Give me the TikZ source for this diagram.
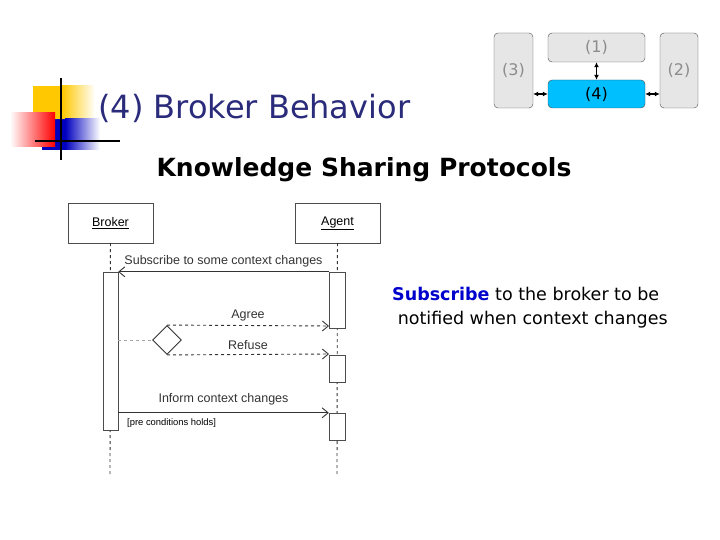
\documentclass[tikz,border=0pt]{standalone}
\usepackage{fontspec}
\setmainfont{DejaVu Sans}
\newfontfamily\arialf{Liberation Sans}
\usetikzlibrary{arrows.meta,shapes.geometric}
\definecolor{navy}{HTML}{2B2B7B}
\definecolor{cyanb}{HTML}{00BFFF}
\definecolor{boxg}{HTML}{E6E6E6}
\definecolor{ylw}{HTML}{FFC800}
\tikzset{
 gbox/.style={draw=black!70,fill=boxg,rounded corners=4pt,text=black!45,font=\fontsize{16}{18}\selectfont},
 dbl/.style={{Latex[length=5pt,width=5pt]}-{Latex[length=5pt,width=5pt]},line width=1.2pt},
 part/.style={draw=black!70,fill=white},
 act/.style={draw=black!70,fill=white},
 life/.style={dashed,black!80,line width=0.9pt},
 msg/.style={-{Straight Barb[length=6pt,width=10pt]},black!80,line width=0.9pt},
 lbl/.style={font=\arialf\fontsize{12.5}{14}\selectfont},
}
\begin{document}
\begin{tikzpicture}[x=1pt,y=-1pt]
\useasboundingbox (0,0) rectangle (720,540);
% logo
\fill[ylw] (33,86) rectangle (62,120);
\shade[left color=ylw,right color=white] (62,86) rectangle (95,120);
\fill[blue!75!black] (42,119) rectangle (65,150);
\shade[left color=blue!75!black,right color=white] (65,119) rectangle (100,150);
\shade[left color=white,right color=red] (10,113) rectangle (55,147);
\draw[line width=1.5pt] (61,78) -- (61,160);
\draw[line width=1.5pt] (35,141) -- (120,141);
\node[anchor=west,text=navy,font=\fontsize{32}{36}\selectfont,inner sep=0] (title) at (98,108) {(4) Broker Behavior};
% top right
\node[gbox,minimum width=39pt,minimum height=75pt] (b3) at (513.5,70.5) {(3)};
\node[gbox,minimum width=97pt,minimum height=29pt] (b1) at (596.5,47.5) {(1)};
\node[gbox,fill=cyanb,text=black,minimum width=97pt,minimum height=28pt] (b4) at (596.5,94) {(4)};
\node[gbox,minimum width=38pt,minimum height=75pt] (b2) at (679,70.5) {(2)};
\draw[dbl] (b1) -- (b4);
\draw[dbl] (b3.east|-b4) -- (b4.west);
\draw[dbl] (b4.east) -- (b2.west|-b4);
\node[font=\bfseries\fontsize{25}{28}\selectfont] (head) at (364,170) {Knowledge Sharing Protocols};
% sequence
\node[part,minimum width=85pt,minimum height=40pt,lbl] (broker) at (110.5,223) {\underline{Broker}};
\node[part,minimum width=85pt,minimum height=40pt,lbl] (agent) at (337.5,223) {\underline{Agent}};
\coordinate (be) at (110,475); \coordinate (ae) at (337,475);
\draw[life] (broker) -- (be);
\draw[life] (agent) -- (ae);
\node[act,minimum width=15pt,minimum height=158pt,inner sep=0] (ba) at (110.5,351) {};
\node[act,minimum width=16pt,minimum height=56pt,inner sep=0] (a1) at (337,300) {};
\node[act,minimum width=16pt,minimum height=27pt,inner sep=0] (a2) at (337,368.5) {};
\node[act,minimum width=16pt,minimum height=27pt,inner sep=0] (a3) at (337,426.5) {};
\draw[msg] (a1.north west) -- node[lbl,above=1pt] {Subscribe to some context changes} (ba.east|-a1.north west);
\node[diamond,draw=black!80,line width=0.9pt,fill=white,minimum width=29pt,minimum height=29pt,inner sep=0] (dia) at (167,340) {};
\draw[dashed,black!35,line width=0.9pt] (ba.east|-dia) -- (dia.west);
\coordinate (agr) at (329,326); \coordinate (ref) at (329,354);
\draw[msg,dashed] (dia.north) -- node[lbl,above=1pt,xshift=0pt] {Agree} (agr);
\draw[msg,dashed] (dia.south) -- node[lbl,above=1pt] {Refuse} (ref);
\draw[msg] (ba.east|-a3.north) -- node[lbl,above=4pt] {Inform context changes} (a3.north west);
\node[anchor=west,font=\arialf\fontsize{9.4}{10}\selectfont,inner sep=0] (pre) at (127,423) {[pre conditions holds]};
% right text
\node[align=left,anchor=west,font=\fontsize{17.5}{24}\selectfont,inner sep=0] (desc) at (392,308) {\textcolor{blue!80!black}{\bfseries Subscribe} to the broker to be\\\ notified when context changes};
\end{tikzpicture}
\end{document}
